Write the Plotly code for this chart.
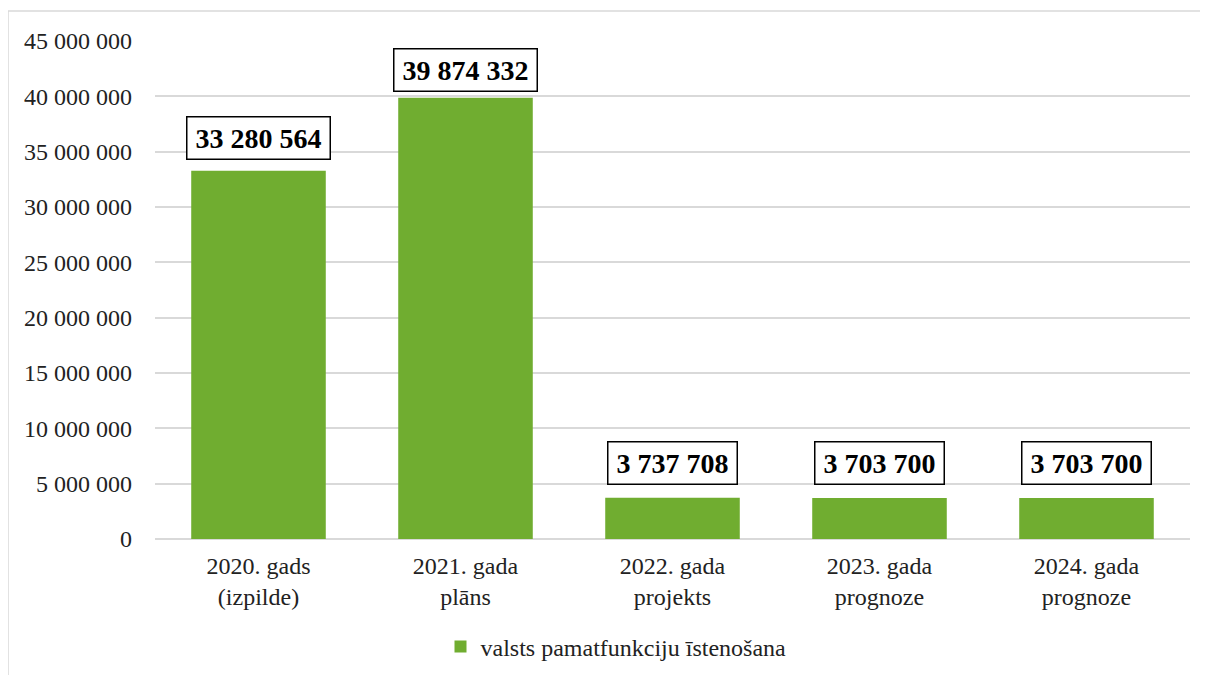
import plotly.graph_objects as go

categories = ["2020. gads<br>(izpilde)", "2021. gada<br>plāns", "2022. gada<br>projekts",
              "2023. gada<br>prognoze", "2024. gada<br>prognoze"]
values = [33280564, 39874332, 3737708, 3703700, 3703700]
series_name = "valsts pamatfunkciju īstenošana"
y_ticks = [0, 5000000, 10000000, 15000000, 20000000, 25000000, 30000000, 35000000, 40000000, 45000000]

# page body has an 8px margin; figure coordinates are screen minus 8
W, H = 1200, 667
L, R, T, B = 147, 18, 33, 136
pw, ph = W - L - R, H - T - B
SERIF = "Liberation Serif, Times New Roman, serif"
label_shifts = [11, 6, 13, 13, 13]

def fmt(v):
    return f"{v:,}".replace(",", " ")

fig = go.Figure()
fig.add_trace(go.Bar(
    x=categories, y=values, name=series_name,
    marker=dict(color="#70AD30", line=dict(width=0)),
    width=0.65, showlegend=True,
))

for c, v, s in zip(categories, values, label_shifts):
    fig.add_annotation(
        x=c, y=v, text=f"&nbsp;<b>{fmt(v)}</b>&nbsp;", showarrow=False,
        yanchor="bottom", yshift=s, height=39,
        font=dict(family=SERIF, size=28, color="#000"),
        bordercolor="#000", borderwidth=1.5, bgcolor="#fff", borderpad=1,
    )

# outer chart border
fig.add_shape(type="rect", xref="paper", yref="paper",
              x0=(0 - L) / pw, x1=(W + 20 - L) / pw,
              y0=-(H + 20 - T - ph) / ph, y1=(H - 3 - B) / ph,
              line=dict(color="#d9d9d9", width=1.5), fillcolor="rgba(0,0,0,0)", layer="below")

fig.update_layout(
    width=W, height=H,
    margin=dict(l=L, r=R, t=T, b=B, autoexpand=False),
    paper_bgcolor="#fff", plot_bgcolor="#fff",
    separators=". ",
    font=dict(family=SERIF, size=24, color="#222"),
    bargap=0.35,
    legend=dict(orientation="h", x=(616 - 155) / 1035, xanchor="center",
                y=-(647 - 8 - 531) / ph, yanchor="middle",
                font=dict(family=SERIF, size=24, color="#222")),
    xaxis=dict(showgrid=False, showline=False, ticks="", automargin=False,
               ticklabelstandoff=10,
               tickfont=dict(family=SERIF, size=24, color="#222"),
               range=[-0.5, 4.5]),
    yaxis=dict(range=[0, 45000000], tickvals=y_ticks, tickformat=",d", automargin=False,
               showgrid=True, gridcolor="#d9d9d9", gridwidth=1.5,
               zeroline=True, zerolinecolor="#d9d9d9", zerolinewidth=1.5,
               showline=False, ticks="", ticklabelstandoff=22,
               tickfont=dict(family=SERIF, size=24, color="#222")),
)

fig.write_html("out.html")
